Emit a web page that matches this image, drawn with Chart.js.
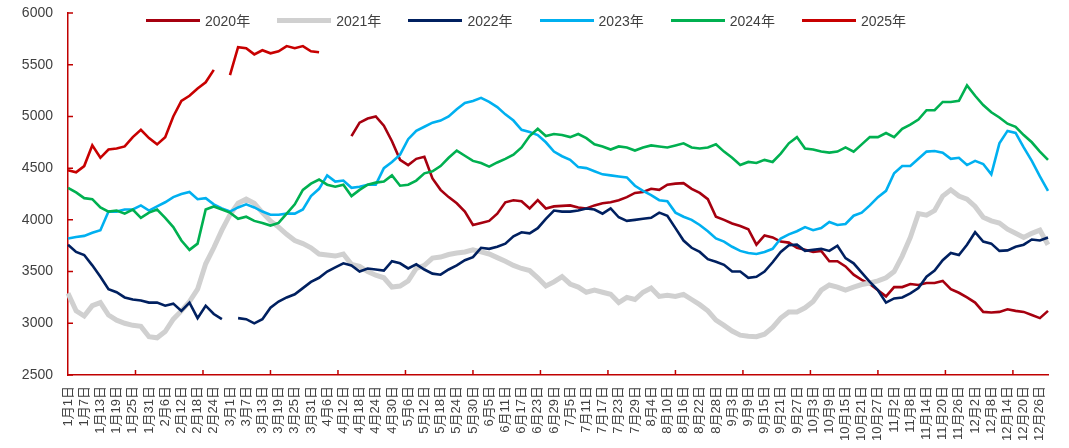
<!DOCTYPE html>
<html>
<head>
<meta charset="utf-8">
<script src="https://cdn.jsdelivr.net/npm/chart.js@4.4.1/dist/chart.umd.min.js"></script>
<style>
body { margin: 0; background: #fff; }
#wrap { position: relative; width: 1069px; height: 448px; }
#legend { position: absolute; left: 146px; top: 10px; display: flex; font: 14px Arial, "Liberation Sans", "Noto Sans CJK SC", sans-serif; color: #404040; }
.item { display: flex; align-items: center; width: 131.2px; white-space: nowrap; }
.swatch { width: 54px; margin-right: 5px; }
</style>
</head>
<body>
<div id="wrap"><canvas id="myChart"></canvas><div id="legend"></div></div>
<script>
// tick labels on the x axis, one every 6 days (leap-year calendar)
var tickLabels = ["1月1日","1月7日","1月13日","1月19日","1月25日","1月31日","2月6日","2月12日","2月18日","2月24日",
  "3月1日","3月7日","3月13日","3月19日","3月25日","3月31日","4月6日","4月12日","4月18日","4月24日","4月30日",
  "5月6日","5月12日","5月18日","5月24日","5月30日","6月5日","6月11日","6月17日","6月23日","6月29日",
  "7月5日","7月11日","7月17日","7月23日","7月29日","8月4日","8月10日","8月16日","8月22日","8月28日",
  "9月3日","9月9日","9月15日","9月21日","9月27日","10月3日","10月9日","10月15日","10月21日","10月27日",
  "11月2日","11月8日","11月14日","11月20日","11月26日","12月2日","12月8日","12月14日","12月20日","12月26日"];
// data is read every 3 days, so every second category has no printed label
var categories = [];
tickLabels.forEach(function (t) { categories.push(t); categories.push(""); });

var years = ["2020年","2021年","2022年","2023年","2024年","2025年"];
var colors = ["#A6000F","#D0D0D0","#002060","#00B0F0","#00B050","#C80000"];

var s2020 = [null,null,null,null,null,null,null,null,null,null,
  null,null,null,null,null,null,null,null,null,null,
  null,null,null,null,null,null,null,null,null,null,
  null,null,null,null,null,
  4810,4940,4980,5000,4910,4760,4580,4530,4590,4610,
  4400,4290,4220,4160,4080,3950,3970,3990,4060,4170,
  4190,4180,4110,4190,4110,4130,4135,4140,4120,4110,
  4140,4160,4170,4190,4220,4260,4270,4300,4290,4340,
  4350,4355,4300,4260,4200,4030,4000,3965,3940,3910,
  3760,3850,3830,3790,3780,3730,3710,3690,3700,3600,
  3600,3550,3470,3420,3380,3320,3260,3350,3350,3380,
  3370,3390,3390,3410,3330,3295,3250,3200,3110,3105,
  3110,3135,3120,3110,3080,3050,3120];
var s2021 = [3290,3120,3070,3170,3200,3080,3030,3000,2980,2970,
  2870,2860,2920,3040,3120,3210,3330,3575,3730,3900,
  4050,4160,4200,4160,4070,3990,3930,3860,3800,3770,
  3730,3670,3660,3650,3670,3570,3550,3500,3465,3440,
  3350,3360,3410,3530,3560,3630,3640,3665,3680,3690,
  3710,3690,3670,3635,3600,3560,3530,3510,3440,3360,
  3400,3450,3380,3350,3300,3320,3300,3280,3200,3250,
  3230,3300,3340,3260,3270,3260,3280,3230,3180,3120,
  3030,2980,2925,2885,2875,2870,2895,2960,3050,3110,
  3110,3150,3210,3320,3370,3350,3320,3350,3375,3390,
  3410,3440,3500,3650,3830,4060,4045,4090,4230,4290,
  4230,4200,4130,4025,3990,3970,3910,3870,3830,3870,
  3900,3760];
var s2022 = [3760,3690,3660,3560,3450,3330,3300,3250,3230,3220,
  3200,3200,3170,3190,3120,3200,3050,3170,3090,3040,
  null,3050,3040,3000,3040,3150,3210,3250,3280,3340,
  3400,3440,3500,3540,3580,3560,3500,3530,3520,3510,
  3600,3580,3530,3570,3520,3480,3470,3520,3560,3610,
  3640,3730,3720,3740,3770,3840,3880,3870,3920,4010,
  4090,4080,4080,4090,4110,4100,4060,4110,4025,3990,
  4000,4010,4020,4070,4040,3920,3800,3730,3690,3620,
  3595,3565,3500,3500,3440,3450,3500,3590,3690,3755,
  3760,3700,3710,3720,3700,3750,3630,3580,3490,3400,
  3320,3200,3240,3250,3290,3340,3450,3510,3610,3680,
  3660,3760,3880,3790,3770,3700,3705,3740,3760,3810,
  3800,3830];
var s2023 = [3820,3835,3845,3875,3900,4080,4080,4100,4100,4140,
  4090,4130,4170,4220,4250,4270,4200,4210,4150,4110,
  4080,4120,4150,4120,4080,4050,4050,4060,4060,4100,
  4230,4300,4430,4370,4380,4310,4320,4340,4340,4500,
  4560,4630,4780,4860,4900,4940,4960,5000,5070,5130,
  5150,5180,5140,5090,5020,4960,4870,4850,4820,4750,
  4660,4615,4580,4510,4500,4470,4440,4430,4420,4410,
  4330,4280,4240,4190,4180,4070,4030,4000,3950,3890,
  3820,3790,3740,3700,3680,3670,3690,3720,3820,3860,
  3890,3930,3900,3920,3980,3950,3960,4040,4070,4140,
  4220,4280,4450,4520,4520,4590,4660,4665,4650,4590,
  4600,4530,4570,4540,4440,4740,4860,4840,4700,4570,
  4420,4280];
var s2024 = [4310,4265,4210,4200,4120,4080,4090,4060,4100,4020,
  4070,4100,4020,3930,3800,3710,3770,4100,4130,4100,
  4070,4010,4030,3990,3970,3945,3970,4060,4150,4290,
  4350,4390,4340,4320,4340,4230,4290,4340,4360,4370,
  4430,4330,4340,4380,4450,4470,4520,4600,4670,4620,
  4570,4550,4515,4555,4590,4630,4700,4810,4880,4810,
  4830,4820,4800,4830,4790,4730,4710,4680,4710,4700,
  4670,4700,4720,4710,4700,4720,4740,4700,4690,4700,
  4730,4660,4600,4530,4560,4550,4580,4560,4640,4740,
  4800,4690,4680,4660,4650,4660,4700,4660,4730,4800,
  4800,4840,4800,4880,4920,4970,5060,5060,5140,5140,
  5150,5300,5200,5110,5040,4990,4930,4900,4820,4750,
  4660,4580];
var s2025 = [4480,4460,4520,4720,4600,4680,4690,4710,4800,4870,
  4790,4730,4800,5000,5150,5200,5270,5330,5450,null,
  5400,5670,5660,5600,5640,5610,5630,5680,5660,5680,
  5630,5620];

var series = [s2020, s2021, s2022, s2023, s2024, s2025];
var axisRed = "#C00000";
var font = 'Arial, "Liberation Sans", "Noto Sans CJK SC", sans-serif';

// small inward tick marks on both axes, like the original
var axisTicks = {
  id: "axisTicks",
  afterDraw: function (chart) {
    var ctx = chart.ctx, area = chart.chartArea;
    var xs = chart.scales.x, ys = chart.scales.y;
    ctx.save();
    ctx.strokeStyle = axisRed;
    ctx.lineWidth = 1.5;
    ctx.beginPath();
    ys.ticks.forEach(function (t, i) {
      var py = ys.getPixelForTick(i);
      ctx.moveTo(area.left, py);
      ctx.lineTo(area.left + 5, py);
    });
    for (var d = 25; d <= 363; d += 25) { // one mark every 25 days
      var px = xs.getPixelForValue(d / 3);
      ctx.moveTo(px, area.bottom);
      ctx.lineTo(px, area.bottom - 5);
    }
    ctx.stroke();
    ctx.restore();
  }
};

var datasets = series.map(function (s, k) {
  return {
    label: years[k],
    data: s,
    borderColor: colors[k],
    backgroundColor: colors[k],
    borderWidth: k == 1 ? 5 : 2.6,
    pointRadius: 0,
    tension: 0,
    spanGaps: false,
    order: 6 - k // later years on top
  };
});

var ctx = document.getElementById("myChart").getContext("2d");
var chart = new Chart(ctx, {
  type: "line",
  data: { labels: categories, datasets: datasets },
  options: {
    responsive: true,
    maintainAspectRatio: false,
    animation: false,
    layout: { padding: { top: 13, right: 21, left: 0, bottom: 0 } },
    plugins: { legend: { display: false }, tooltip: { enabled: false } },
    scales: {
      x: {
        // grid hidden, tickLength only used to push the labels off the axis
        grid: { display: false, drawTicks: true, tickLength: 10 },
        border: { display: true, color: axisRed, width: 1.5 },
        ticks: {
          autoSkip: false, minRotation: 90, maxRotation: 90, padding: 1,
          color: "#404040", font: { size: 13, family: font },
          callback: function (v) { return this.getLabelForValue(v); }
        },
        afterFit: function (scale) { scale.height = 73; }
      },
      y: {
        min: 2500, max: 6000,
        grid: { display: false, drawTicks: true, tickLength: 12 },
        border: { display: true, color: axisRed, width: 1.5 },
        ticks: {
          stepSize: 500, padding: 3, color: "#404040", font: { size: 14, family: font },
          callback: function (v) { return String(v); }
        },
        afterFit: function (scale) { scale.width = 68; }
      }
    }
  },
  plugins: [axisTicks]
});

// html legend laid over the top of the plot
var legend = document.getElementById("legend");
years.forEach(function (y, k) {
  var item = document.createElement("div");
  item.className = "item";
  var sw = document.createElement("div");
  sw.className = "swatch";
  sw.style.height = (k == 1 ? 5 : 3) + "px";
  sw.style.background = colors[k];
  var txt = document.createElement("span");
  txt.textContent = y;
  item.appendChild(sw);
  item.appendChild(txt);
  legend.appendChild(item);
});
</script>
</body>
</html>
